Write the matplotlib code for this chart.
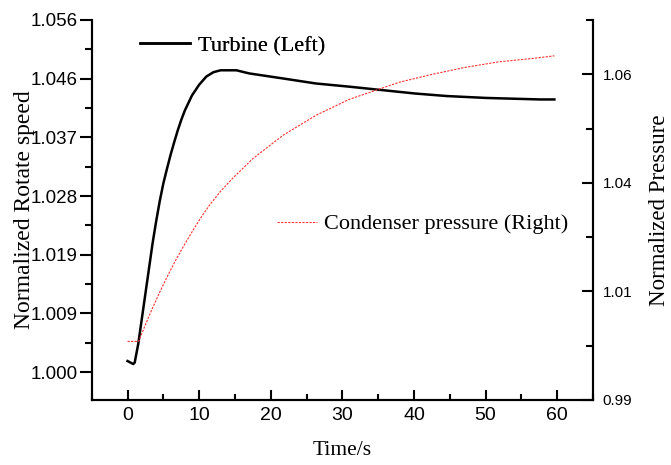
import numpy as np
import matplotlib
matplotlib.use('Agg')
import matplotlib.pyplot as plt
from matplotlib.ticker import FixedLocator, MultipleLocator

# turbine speed (left axis)
t_speed = [0, 0.8, 1.0, 1.5, 2.0, 2.5, 3.0, 3.5, 4.0, 4.5, 5.0, 5.5, 6.0, 6.5,
           7.0, 7.5, 8.0, 9.0, 10.0, 11.0, 12.0, 13.0, 15.2, 17.0, 21.7, 26.3,
           30.9, 37.9, 40.2, 44.6, 50.1, 57.6, 59.6]
speed = [1.00175, 1.00127, 1.0015, 1.0045, 1.0085, 1.0125, 1.0165, 1.0205,
         1.0240, 1.0272, 1.0300, 1.0323, 1.0345, 1.0365, 1.0384, 1.0401,
         1.0416, 1.0440, 1.0457, 1.0470, 1.0477, 1.0480, 1.0480, 1.0475,
         1.0467, 1.0459, 1.0454, 1.04457, 1.0443, 1.0439, 1.0436, 1.04336,
         1.04336]

# condenser pressure (right axis)
t_press = [0, 1.55, 2.5, 3.5, 4.5, 5.5, 6.5, 7.5, 8.25, 9.5, 10.5, 11.5, 13.0,
           14.7, 17.5, 21.7, 26.3, 30.9, 37.9, 42.5, 47.1, 51.8, 56.4, 59.6]
press = [1.00259, 1.00259, 1.0062, 1.0098, 1.0132, 1.0164, 1.0194, 1.0222,
         1.0242, 1.0274, 1.0298, 1.0320, 1.0349, 1.0377, 1.0419, 1.0469,
         1.0512, 1.0546, 1.0583, 1.0600, 1.0615, 1.0627, 1.0634, 1.0640]

left_ticks = np.linspace(1.0, 1.056, 7)
left_labels = ['1.000', '1.009', '1.019', '1.028', '1.037', '1.046', '1.056']
right_ticks = np.linspace(0.99, 1.06, 4)
right_labels = ['0.99', '1.01', '1.04', '1.06']

serif = 'Liberation Serif'
sans = 'Liberation Sans'

fig = plt.figure(figsize=(6.71, 4.65), dpi=100)
ax = fig.add_axes([0.1367, 0.1398, 0.7471, 0.8172])
ax2 = ax.twinx()

l1, = ax.plot(t_speed, speed, color='black', lw=1.8)
l2, = ax2.plot(t_press, press, color='#ff3030', lw=0.8, linestyle=(0, (2, 1.2)))

ax.set_xlim(-5, 65)
ax.set_ylim(0.99555, 1.056)
ax2.set_ylim(0.99, 1.0717)

ax.set_xticks([0, 10, 20, 30, 40, 50, 60])
ax.xaxis.set_minor_locator(MultipleLocator(5))
ax.set_yticks(left_ticks)
ax.set_yticklabels(left_labels)
ax.yaxis.set_minor_locator(FixedLocator(left_ticks[:-1] + (left_ticks[1] - left_ticks[0]) / 2))
ax2.set_yticks(right_ticks)
ax2.set_yticklabels(right_labels)
step = right_ticks[1] - right_ticks[0]
ax2.yaxis.set_minor_locator(FixedLocator(list(right_ticks + step / 2)))

for a in (ax, ax2):
    for s in a.spines.values():
        s.set_linewidth(1.5)
    a.spines['top'].set_visible(False)

ax.tick_params(axis='x', which='major', direction='in', length=7, width=1.5, pad=5, labelsize=14)
ax.tick_params(axis='x', which='minor', direction='in', length=4, width=1.5)
ax.tick_params(axis='y', which='major', direction='out', length=9, width=1.5, pad=1, labelsize=13.5)
ax.tick_params(axis='y', which='minor', direction='out', length=5, width=1.5)
ax2.tick_params(axis='y', which='major', direction='in', length=8, width=1.5, pad=7, labelsize=11)
ax2.tick_params(axis='y', which='minor', direction='in', length=5, width=1.5)

for lab in ax.get_xticklabels() + ax.get_yticklabels() + ax2.get_yticklabels():
    lab.set_fontfamily(sans)

ax.set_xlabel('Time/s', fontfamily=serif, fontsize=15.5, labelpad=12)
ax.set_ylabel('Normalized Rotate speed', fontfamily=serif, fontsize=17, labelpad=-3)
ax2.set_ylabel('Normalized Pressure', fontfamily=serif, fontsize=16.5, labelpad=12)

leg1 = ax.legend([l1], ['Turbine (Left)'], loc='center left', bbox_to_anchor=(0.0963, 0.9316),
                 frameon=False, borderpad=0, borderaxespad=0, handlelength=2.25,
                 handletextpad=0.35, prop={'family': serif, 'size': 16})
ax.add_artist(leg1)
leg2 = ax2.legend([l2], ['Condenser pressure (Right)'], loc='center left',
                  bbox_to_anchor=(0.37, 0.463), frameon=False, borderpad=0, borderaxespad=0,
                  handlelength=1.8, handletextpad=0.3, prop={'family': serif, 'size': 16})

fig.savefig('out.png', dpi=100)
